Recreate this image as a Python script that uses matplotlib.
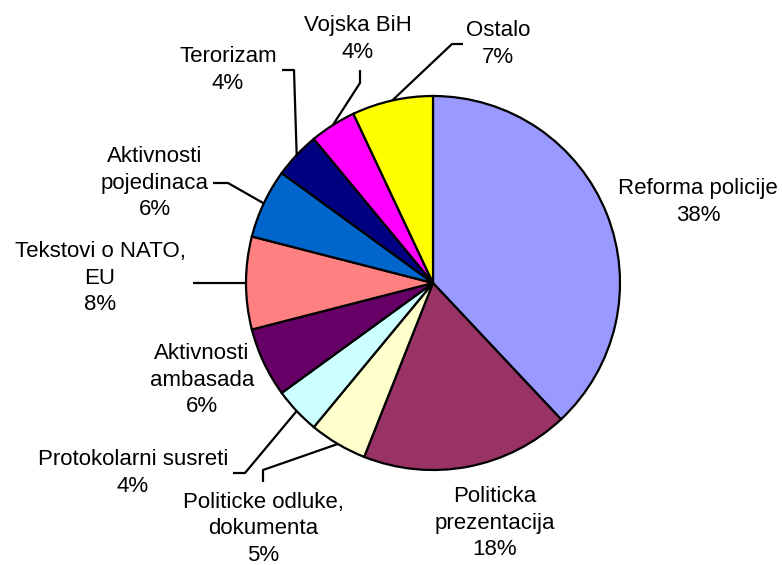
import numpy as np
import matplotlib
matplotlib.use("Agg")
import matplotlib.pyplot as plt

plt.rcParams['font.family'] = ['Liberation Sans', 'DejaVu Sans']

labels = ['Reforma policije', 'Politicka\nprezentacija', 'Politicke odluke,\ndokumenta',
          'Protokolarni susreti', 'Aktivnosti\nambasada', 'Tekstovi o NATO,\nEU',
          'Aktivnosti\npojedinaca', 'Terorizam', 'Vojska BiH', 'Ostalo']
values = [38, 18, 5, 4, 6, 8, 6, 4, 4, 7]
colors = ['#9999FF', '#993366', '#FFFFCC', '#CCFFFF', '#660066',
          '#FF8080', '#0066CC', '#000080', '#FF00FF', '#FFFF00']

W, H = 782, 565
cx, cy, R = 433, 283, 187  # pie centre / radius in image pixels

# label centre (image px) and leader path from text to the elbow (None = no leader)
label_pos = [(698, 202), (495, 523), (263, 529), (133, 473), (202, 380),
             (100, 278), (155, 183), (228, 70), (358, 39), (498, 44)]
leaders = [None, None,
           [(263, 482), (263, 470)],
           [(233, 473), (245, 473)],
           None,
           [(193, 283)],
           [(213, 183), (228, 183)],
           [(282, 70), (294, 70)],
           [(360, 70), (360, 83)],
           [(463, 44), (452, 44)]]

fig = plt.figure(figsize=(W / 100, H / 100), dpi=100)
ax = fig.add_axes([0, 0, 1, 1])
ax.set_xlim(0, W)
ax.set_ylim(0, H)
ax.set_aspect('equal')
ax.axis('off')

wedges, _ = ax.pie(values, colors=colors, startangle=90, counterclock=False,
                   center=(cx, H - cy), radius=R,
                   wedgeprops=dict(edgecolor='black', linewidth=1.6))
ax.set_xlim(0, W)
ax.set_ylim(0, H)

for i, (lab, v) in enumerate(zip(labels, values)):
    x, y = label_pos[i]
    ax.text(x, H - y, lab + '\n' + str(v) + '%', ha='center', va='center',
            fontsize=16, linespacing=1.32, color='black')
    if leaders[i] is not None:
        w = wedges[i]
        mid = np.deg2rad((w.theta1 + w.theta2) / 2)
        ex = cx + R * np.cos(mid)
        ey = (H - cy) + R * np.sin(mid)
        xs = [p[0] for p in leaders[i]] + [ex]
        ys = [H - p[1] for p in leaders[i]] + [ey]
        ax.plot(xs, ys, color='black', lw=1.6, solid_capstyle='butt')

fig.savefig('out.png', dpi=100)
